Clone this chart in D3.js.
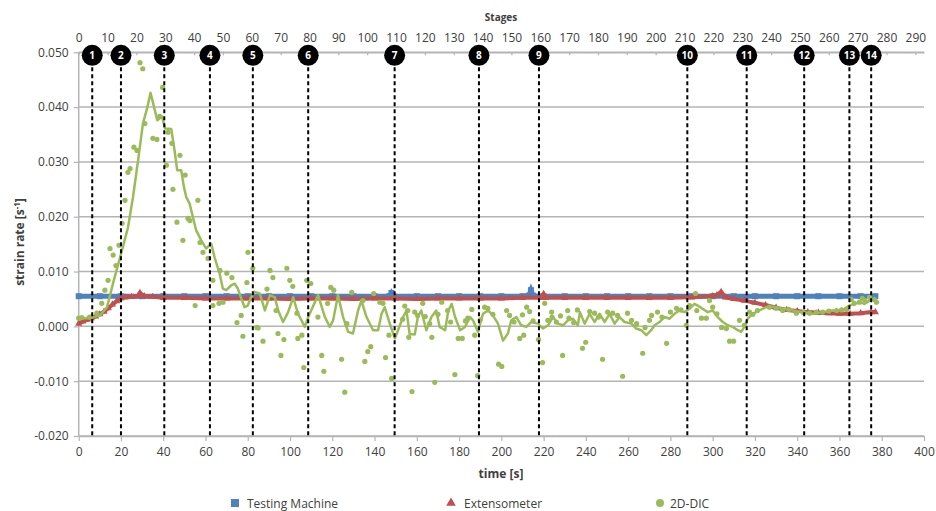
<!DOCTYPE html>
<html><head><meta charset="utf-8">
<script src="https://cdn.jsdelivr.net/npm/d3@7"></script>
<style>
body{margin:0;background:#fff;}
text{font-family:"Open Sans",sans-serif;fill:#404040;}
</style></head>
<body><svg id="c" width="936" height="511"></svg>
<script>
// ---- data ----
const timeTicks = [0,20,40,60,80,100,120,140,160,180,200,220,240,260,280,300,320,340,360,380,400];
const stageTicks = [0,10,20,30,40,50,60,70,80,90,100,110,120,130,140,150,160,170,180,190,200,210,220,230,240,250,260,270,280,290];
const rateTicks = [-0.02,-0.01,0,0.01,0.02,0.03,0.04,0.05];

const stageNames = ["1","2","3","4","5","6","7","8","9","10","11","12","13","14"];
const stageTimes = [6.4,20.0,40.5,62.1,82.4,108.6,149.5,189.4,217.8,288.0,316.1,343.3,364.7,375.0];

const machineTime = [0,10,20,30,40,50,60,70,80,90,100,110,120,130,140,147,148,149,160,170,180,190,200,210,213,214,215,220,230,240,250,260,270,280,290,300,310,320,330,340,350,360,370,377];
const machineRate = [0.0055,0.0055,0.0055,0.0055,0.0055,0.0055,0.0055,0.0055,0.0055,0.0055,0.0055,0.0055,0.0055,0.0055,0.0055,0.0055,0.0061,0.0055,0.0055,0.0055,0.0055,0.0055,0.0055,0.0055,0.0056,0.0066,0.0056,0.0055,0.0055,0.0055,0.0055,0.0055,0.0055,0.0055,0.0055,0.0055,0.0055,0.0055,0.0055,0.0055,0.0055,0.0055,0.0055,0.0055];

const extensoTime = [0,2,4,6,8,10,12,14,16,18,20,22,25,28,29,31,35,40,50,60,70,80,90,100,110,120,130,140,150,160,170,180,190,200,210,219,220,221,230,240,250,260,270,280,290,300,302,304,306,310,315,320,325,330,335,340,345,350,355,360,365,370,375,377];
const extensoRate = [0.0005,0.0009,0.0012,0.0015,0.0018,0.0022,0.0027,0.0033,0.0040,0.0046,0.0051,0.0053,0.0054,0.0055,0.0061,0.0055,0.0054,0.0052,0.0052,0.0051,0.0051,0.0051,0.0051,0.0050,0.0051,0.0051,0.0050,0.0051,0.0051,0.0050,0.0051,0.0051,0.0051,0.0051,0.0052,0.0052,0.0059,0.0052,0.0052,0.0052,0.0052,0.0052,0.0052,0.0052,0.0053,0.0055,0.0057,0.0063,0.0053,0.0050,0.0047,0.0043,0.0039,0.0034,0.0030,0.0028,0.0026,0.0025,0.0024,0.0023,0.0023,0.0024,0.0026,0.0026];

// 2D-DIC smoothed line [time, rate]
const dicLine = [[0,0.0015],[5.3,0.0015],[10.1,0.002],[13.4,0.0035],[16.2,0.0078],[20.5,0.0139],[23.3,0.018],[25.7,0.0236],[28,0.030],[30.4,0.037],[32.5,0.040],[34,0.0426],[37.2,0.0376],[39.4,0.0383],[40.9,0.0361],[43.8,0.036],[45.4,0.032],[46.6,0.0285],[48.5,0.0285],[49.8,0.0254],[50.9,0.0236],[52.5,0.0224],[54,0.020],[55.6,0.0175],[58,0.0157],[60.3,0.0142],[62.7,0.0151],[64.3,0.0126],[66.7,0.0096],[68.2,0.0069],[69.8,0.0066],[72.2,0.0075],[73.8,0.0078],[75.3,0.0069],[76.9,0.0051],[78.5,0.0035],[80,0.0038],[81.6,0.0053],[83.2,0.0063],[85.7,0.006],[88.1,0.0029],[90.5,0.0057],[92.8,0.0053],[94.4,0.0029],[96.7,0.0008],[99.1,0.0026],[101.5,0.0053],[103.8,0.0023],[107,-0.0001],[108.6,0.0017],[113.3,0.0057],[116.5,0.0017],[118.8,-0.0001],[120.4,0.0011],[122.7,0.0057],[125.1,0.0017],[127.5,-0.001],[129.8,-0.0013],[132.2,0.0029],[133.8,0.0047],[136.2,0.0017],[139.3,-0.0007],[141.7,-0.0007],[143.3,0.0023],[144.8,0.0035],[147.2,0.0005],[149.6,-0.0022],[151.1,-0.0007],[153.5,0.0017],[155.1,0.0029],[156.6,-0.0014],[159,-0.0015],[160.5,0.0017],[162.1,0.0029],[164.5,-0.0007],[166.9,0.0017],[169.2,0.0029],[170.8,-0.0001],[173.4,-0.0007],[174.9,0.0029],[176.5,0.0041],[178.1,0.0017],[180.5,-0.0007],[182.8,-0.0001],[185.2,0.0017],[186.6,0.0011],[188.9,-0.001],[191.3,0.0023],[193.7,0.0029],[196,0.002],[198.4,0.0005],[200.8,-0.0026],[203.1,-0.0013],[204.7,0.0011],[207.1,0.0017],[209.4,0.0002],[211.8,-0.0001],[214.2,0.0008],[217.3,0.0005],[219.7,-0.0004],[222.1,0.0002],[224.4,0.0017],[226.8,0.0005],[229.2,0.0002],[231.5,0.0011],[233.9,0.0014],[236.2,0.0002],[237.2,0.0026],[239.4,0.0005],[241.8,0.0023],[244.1,0.0008],[246.5,0.0023],[248.9,0.0008],[251.2,0.0023],[253.6,0.0005],[255.9,0.0017],[258.3,0.0008],[261.5,0.0005],[263.8,-0.0004],[266.2,-0.0007],[268.6,-0.0016],[270.9,-0.0007],[272.5,0.0002],[274.9,0.0008],[277.2,0.0017],[279.6,0.0014],[281.9,0.0023],[284.3,0.0029],[286.7,0.0026],[289,0.0032],[291.4,0.0041],[292.9,0.0038],[295.3,0.0032],[297.7,0.0026],[300,0.0029],[302.4,0.0017],[304.8,0.0008],[307.1,0.0002],[309.5,-0.0001],[311.9,-0.0007],[313.5,-0.001],[315,-0.0001],[316.6,0.0014],[318.9,0.0023],[322.1,0.0029],[325.3,0.0035],[328.4,0.0036],[333.2,0.0032],[337.9,0.0029],[342.6,0.0026],[347.3,0.0023],[352.1,0.0026],[356.8,0.0029],[361.5,0.003],[364.7,0.0038],[367.1,0.0041],[369.5,0.0044],[371.8,0.0041],[374.2,0.0047],[376.5,0.005]];

// 2D-DIC measured points [time, rate]
const dicPoints = [[0,0.0015],[1.5,0.0016],[5.2,0.0017],[8.6,0.0024],[10.9,0.0042],[12.4,0.0066],[13.9,0.0084],[14.8,0.0142],[16.3,0.013],[17.6,0.0111],[19.1,0.0148],[20.5,0.0188],[21.9,0.023],[23.3,0.0281],[24.3,0.0288],[26.1,0.0327],[27.6,0.0321],[29,0.0481],[30.3,0.047],[31.3,0.037],[35.1,0.0343],[37,0.0341],[38.3,0.0383],[39.7,0.0436],[41.5,0.0294],[42.3,0.0354],[44.1,0.0334],[44.6,0.025],[46.5,0.019],[47.9,0.0312],[49.3,0.0157],[50.4,0.0276],[51.7,0.0197],[52.6,0.0193],[56.4,0.023],[57.4,0.0153],[58.8,0.0135],[61.2,0.0124],[63.5,0.0084],[66.8,0.0102],[70.1,0.0097],[72.5,0.0089],[55.1,0.0038],[63.5,0.0038],[66.4,0.0042],[68.3,0.0044],[74.9,0.0007],[76.9,0.002],[77.7,-0.0018],[79.6,0.008],[80.1,0.0135],[82.4,0.0106],[84.3,-0.0002],[84.9,-0.0003],[87.2,-0.0027],[89.1,0.0068],[90.5,0.0102],[91.9,0.0089],[93.4,0.0029],[94.3,-0.0013],[95.7,-0.0053],[97.1,-0.0024],[98.5,0.0106],[99.9,0.0084],[101.3,0.0073],[103.3,0.0024],[103.7,-0.0022],[105.6,-0.0016],[106.5,-0.0075],[107.9,0.0084],[109.8,0.0078],[113.2,0.0017],[115,-0.0053],[116,-0.0082],[117.8,0.0042],[119.3,0.0071],[120.7,0.0066],[124.4,-0.006],[125.9,-0.012],[126.9,0.0005],[129.2,0.0062],[134.5,0.0047],[135.4,-0.0064],[136.8,-0.0046],[138.2,-0.0037],[139.6,0.006],[142.5,0.0044],[144,0.0042],[145.2,-0.0057],[146.8,-0.0016],[148.1,-0.0095],[153.3,0.0013],[154.3,0.0037],[155.7,0.0029],[156.2,-0.002],[157.7,-0.0119],[159,0.0026],[160.4,0.002],[162.8,0.0042],[164,0.0018],[166.1,0.0005],[167.1,-0.002],[168.5,-0.0102],[170,0.0022],[171.8,0.0044],[174.6,0.0029],[176,0.0008],[178,-0.0088],[179.6,-0.0022],[181.5,-0.0022],[183,0.001],[184.1,0.0015],[186,0.0031],[187.4,-0.0016],[188.8,-0.009],[190,0.0012],[192.1,0.0035],[193.6,0.0033],[196,0.0022],[198.7,-0.0069],[200.2,-0.0073],[202.5,0.0029],[203.9,0.002],[206,0.0008],[208.7,-0.0022],[210,0.0021],[210.6,-0.0016],[212,0.0035],[213.4,0.0027],[215,0.001],[217.6,-0.0024],[219.5,-0.0066],[220.5,0.0042],[222,0.0011],[223.8,0.0026],[224,0.0017],[226,0.0008],[228,0.0019],[229,-0.0053],[231.4,0.0029],[232,0.0015],[234.2,0.0007],[236,0.003],[238.4,-0.004],[239.9,-0.0029],[241.8,0.0027],[244.1,0.0024],[246,0.0017],[247.9,-0.006],[250.3,0.0026],[252.7,0.0024],[255,0.002],[257.4,-0.0091],[259.7,0.0024],[261.6,0.0011],[264,0.0005],[266.9,-0.0049],[268,-0.0002],[270.1,0.0011],[271.1,0.002],[273.9,0.0026],[276,0.0017],[278.2,-0.0031],[280,0.0026],[282.9,0.0033],[285,0.003],[287.5,0.0002],[289,0.0038],[291.9,0.006],[292.5,0.0029],[294.7,0.0015],[297,0.0015],[298.5,0.0047],[300,0.0035],[302,0.0023],[304.2,-0.0002],[306.5,-0.0004],[308,-0.0027],[309.9,-0.0027],[312.7,0.0011],[315,0.0002],[317.4,0.0026],[319,0.0022],[321.2,0.0029],[326.9,0.0035],[330,0.0033],[333.1,0.0029],[336,0.0031],[339.6,0.0024],[343,0.0025],[345.8,0.0024],[349,0.0026],[352,0.0026],[355,0.0028],[358.6,0.0029],[361,0.003],[363.3,0.0031],[365.6,0.0049],[367,0.0042],[369.4,0.0044],[370.8,0.0051],[372,0.0047],[374.2,0.0053],[376.5,0.0049],[377.5,0.0044]];

// ---- layout ----
const svg = d3.select("#c");
const L = 78.7, R = 924, T = 52.3, B = 436;
const x = d3.scaleLinear().domain([0,400]).range([L,R]);
const xTop = d3.scaleLinear().domain([0,293]).range([L,R]);
const y = d3.scaleLinear().domain([-0.02,0.05]).range([B,T]);
const gridCol = "#b4b4b4";
const blue = "#4f81bd", red = "#c0504d", green = "#9bbb59";

svg.append("rect").attr("width",936).attr("height",511).attr("fill","#fff");

// gridlines
svg.append("g").selectAll("line").data(rateTicks).join("line")
  .attr("x1",L).attr("x2",R).attr("y1",d=>y(d)).attr("y2",d=>y(d))
  .attr("stroke",gridCol).attr("stroke-width",1.5);

// axes
const fmtRate = d => d3.format(".3f")(d).replace("\u2212","-");
const gL = svg.append("g").attr("transform",`translate(${L},0)`)
  .call(d3.axisLeft(y).tickValues(rateTicks).tickFormat(fmtRate).tickSize(5).tickSizeOuter(0).tickPadding(5));
const gB = svg.append("g").attr("transform",`translate(0,${B})`)
  .call(d3.axisBottom(x).tickValues(timeTicks).tickFormat(d3.format("d")).tickSize(5).tickSizeOuter(0).tickPadding(6));
const gT = svg.append("g").attr("transform",`translate(0,${T})`)
  .call(d3.axisTop(xTop).tickValues(stageTicks).tickFormat(d3.format("d")).tickSize(-3).tickSizeOuter(0).tickPadding(10));
[gL,gB,gT].forEach(g=>{
  g.select(".domain").attr("stroke",gridCol).attr("stroke-width",1.5);
  g.selectAll(".tick line").attr("stroke",gridCol).attr("stroke-width",1.2);
  g.selectAll(".tick text").attr("fill","#404040").style("font-size","12px").style("font-family","'Open Sans',sans-serif");
});
gL.select(".domain").attr("d",`M0,${T}V${B}`);

// titles
svg.append("text").attr("x",501).attr("y",21).attr("text-anchor","middle")
  .style("font-size","10px").style("font-weight","bold").text("Stages");
svg.append("text").attr("x",501).attr("y",478).attr("text-anchor","middle")
  .style("font-size","12px").style("font-weight","bold").text("time [s]");
const yt = svg.append("text").attr("transform","translate(24,242) rotate(-90)").attr("text-anchor","middle")
  .style("font-size","12px").style("font-weight","bold");
yt.append("tspan").text("strain rate  [s");
yt.append("tspan").attr("dy",-4).style("font-size","8px").text("-1");
yt.append("tspan").attr("dy",4).text("]");

// series
const plot = svg.append("g");
const mach = machineTime.map((t,i)=>[t,machineRate[i]]);
const ext = extensoTime.map((t,i)=>[t,extensoRate[i]]);
const line = d3.line().x(d=>x(d[0])).y(d=>y(d[1]));

plot.append("path").datum(mach).attr("d",line).attr("fill","none").attr("stroke",blue).attr("stroke-width",5);
plot.append("g").selectAll("rect").data(mach).join("rect")
  .attr("x",d=>x(d[0])-3).attr("y",d=>y(d[1])-3).attr("width",6).attr("height",6).attr("fill",blue);

plot.append("path").datum(ext).attr("d",line).attr("fill","none").attr("stroke",red).attr("stroke-width",4);
const tri = d3.symbol().type(d3.symbolTriangle).size(22);
plot.append("g").selectAll("path").data(ext).join("path")
  .attr("transform",d=>`translate(${x(d[0])},${y(d[1])})`).attr("d",tri).attr("fill",red);

plot.append("path").datum(dicLine).attr("d",line).attr("fill","none").attr("stroke",green).attr("stroke-width",2.5).attr("stroke-linejoin","round");
plot.append("g").selectAll("circle").data(dicPoints).join("circle")
  .attr("cx",d=>x(d[0])).attr("cy",d=>y(d[1])).attr("r",2.6).attr("fill",green);

// stage markers
const st = svg.append("g").selectAll("g").data(stageTimes).join("g");
st.append("line").attr("x1",d=>x(d)).attr("x2",d=>x(d)).attr("y1",T+8).attr("y2",B)
  .attr("stroke","#000").attr("stroke-width",2).attr("stroke-dasharray","4,3");
st.append("circle").attr("cx",d=>x(d)).attr("cy",T+3).attr("r",10.5).attr("fill","#000");
st.append("text").attr("x",d=>x(d)).attr("y",T+7).attr("text-anchor","middle")
  .style("font-size","10px").style("font-weight","bold").style("fill","#fff").text((d,i)=>stageNames[i]);

// legend
const lg = svg.append("g").style("font-size","12px");
lg.append("rect").attr("x",231).attr("y",499).attr("width",8).attr("height",8).attr("fill",blue);
lg.append("text").attr("x",247).attr("y",507.5).text("Testing Machine");
lg.append("path").attr("transform","translate(451,503)").attr("d",d3.symbol().type(d3.symbolTriangle).size(40)).attr("fill",red);
lg.append("text").attr("x",464).attr("y",507.5).text("Extensometer");
lg.append("circle").attr("cx",660).attr("cy",503).attr("r",4).attr("fill",green);
lg.append("text").attr("x",670).attr("y",507.5).text("2D-DIC");
</script></body></html>
